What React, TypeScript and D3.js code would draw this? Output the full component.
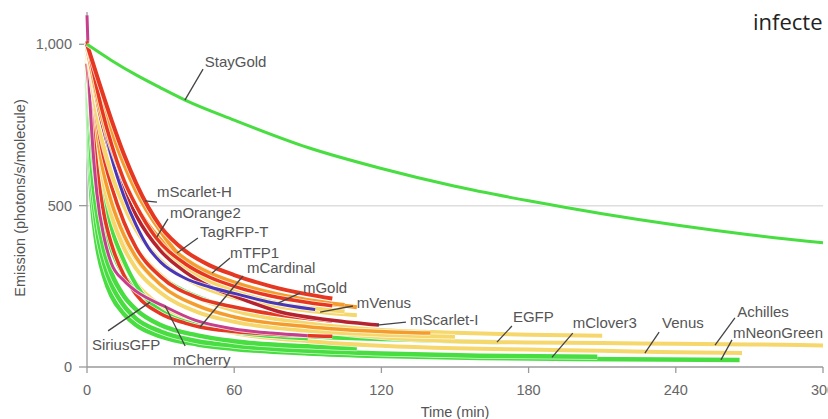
import React from "react";
import * as d3 from "d3";

// photobleaching curves, [time (min), emission (photons/s/molecule)]
const stayGold = [[0, 1000], [10, 950], [20, 905], [30, 865], [40, 827], [60, 765], [90, 680], [120, 615], [150, 560], [180, 515], [210, 475], [240, 440], [270, 410], [300, 385]];
const mNeonGreen = [[0, 880], [1, 640], [2, 510], [4, 380], [7, 280], [10, 220], [15, 165], [20, 130], [30, 95], [45, 70], [60, 56], [90, 42], [120, 34], [160, 28], [200, 25], [266, 22]];
const mClover3 = [[0, 920], [1, 700], [2, 570], [4, 430], [7, 320], [10, 255], [15, 190], [20, 150], [30, 110], [45, 80], [60, 66], [90, 50], [120, 42], [160, 35], [208, 32]];
const greenC = [[0, 950], [2, 620], [4, 480], [7, 360], [10, 290], [15, 220], [20, 178], [30, 130], [45, 98], [60, 80], [90, 64], [110, 58]];
const egfp = [[0, 980], [2, 700], [4, 560], [7, 440], [10, 365], [15, 285], [20, 235], [30, 175], [45, 132], [60, 112], [90, 95], [120, 87], [150, 80], [168, 77]];
const siriusGFP = [[0, 1000], [2, 780], [5, 600], [10, 430], [15, 330], [20, 255], [25, 205], [30, 175], [45, 130], [60, 108], [75, 96], [90, 88]];
const greenF = [[0, 1000], [3, 820], [6, 680], [10, 560], [15, 450], [20, 370], [25, 315], [30, 280], [40, 235], [50, 205], [60, 185], [75, 165], [90, 150], [100, 142]];
const achilles = [[0, 1000], [2, 820], [5, 650], [10, 500], [15, 400], [20, 335], [30, 255], [45, 190], [60, 155], [90, 115], [120, 92], [150, 80], [180, 76], [210, 74], [240, 72], [270, 70], [300, 67]];
const venus = [[0, 960], [2, 740], [5, 560], [10, 410], [15, 320], [20, 260], [30, 190], [45, 135], [60, 105], [90, 80], [120, 66], [150, 58], [180, 54], [210, 50], [240, 46], [267, 43]];
const yellowC = [[0, 1000], [3, 800], [6, 660], [10, 540], [15, 440], [20, 370], [30, 285], [45, 215], [60, 175], [90, 135], [120, 115], [150, 106], [180, 100], [210, 97]];
const mGold = [[0, 1000], [3, 860], [6, 760], [10, 660], [15, 560], [20, 480], [30, 375], [45, 285], [60, 235], [78, 198], [95, 180], [105, 172]];
const mVenus = [[0, 1000], [3, 830], [6, 710], [10, 600], [15, 500], [20, 425], [30, 330], [45, 255], [60, 215], [80, 185], [95, 170], [110, 160]];
const yellowF = [[0, 980], [3, 760], [6, 600], [10, 470], [15, 370], [20, 305], [30, 230], [45, 170], [60, 140], [90, 112], [120, 100], [150, 94]];
const mOrange2 = [[0, 1010], [3, 900], [6, 800], [10, 690], [15, 580], [20, 500], [28, 402], [40, 320], [50, 278], [60, 250], [75, 220], [90, 200], [100, 190]];
const tagRFPT = [[0, 1000], [3, 910], [6, 830], [10, 730], [15, 630], [20, 545], [30, 420], [36, 360], [45, 310], [60, 262], [75, 230], [90, 208], [105, 192]];
const orangeC = [[0, 1000], [3, 780], [6, 630], [10, 510], [15, 410], [20, 340], [30, 255], [45, 190], [60, 155], [90, 125], [120, 110], [140, 105]];
const mScarletH = [[0, 1000], [5, 880], [10, 765], [15, 660], [20, 570], [25, 495], [30, 435], [40, 360], [50, 315], [60, 285], [75, 250], [90, 225], [100, 212]];
const mTFP1 = [[0, 990], [3, 880], [6, 780], [10, 680], [15, 580], [20, 500], [30, 395], [40, 335], [50, 293], [60, 262], [75, 230], [90, 205], [110, 185]];
const mScarletI = [[0, 1000], [3, 870], [6, 760], [10, 650], [15, 550], [20, 470], [30, 360], [40, 295], [50, 250], [60, 220], [78, 172], [100, 145], [119, 130]];
const redD = [[0, 1000], [3, 820], [6, 680], [10, 560], [15, 450], [20, 370], [30, 280], [45, 215], [60, 186], [75, 165], [90, 150], [100, 142]];
const mCardinal = [[0, 940], [2, 760], [4, 620], [7, 470], [10, 380], [15, 285], [20, 225], [30, 165], [40, 136], [46, 124], [60, 110], [80, 100], [100, 95]];
const blueLine = [[0, 1000], [3, 880], [6, 780], [10, 650], [15, 530], [20, 440], [25, 370], [30, 325], [40, 275], [50, 248], [60, 228], [75, 200], [93, 178]];
const mCherry = [[0, 1090], [1, 860], [2, 720], [4, 540], [7, 400], [10, 320], [15, 268], [20, 235], [31, 190], [44, 145], [60, 118], [75, 105], [90, 97]];

const xTicks = [0, 60, 120, 180, 240, 300];
const yTicks = [0, 500, 1000];

const GREEN = "#48dd40";
const YELLOW = "#f6d76c";
const ORANGE = "#f49d2e";
const RED = "#e63722";
const DARKRED = "#b52330";
const BLUE = "#4a36b8";
const MAGENTA = "#c63f8c";

const series = [
  { pts: mNeonGreen, color: GREEN, w: 4.5 },
  { pts: mClover3, color: GREEN, w: 4.5 },
  { pts: greenC, color: GREEN, w: 4.5 },
  { pts: egfp, color: GREEN, w: 4.5 },
  { pts: achilles, color: YELLOW, w: 4 },
  { pts: venus, color: YELLOW, w: 4 },
  { pts: yellowC, color: YELLOW, w: 4 },
  { pts: siriusGFP, color: GREEN, w: 4 },
  { pts: greenF, color: GREEN, w: 3.5 },
  { pts: yellowF, color: YELLOW, w: 4 },
  { pts: orangeC, color: ORANGE, w: 3.5 },
  { pts: mCardinal, color: RED, w: 3.5 },
  { pts: mCherry, color: MAGENTA, w: 3 },
  { pts: redD, color: RED, w: 3.5 },
  { pts: mVenus, color: YELLOW, w: 4 },
  { pts: mGold, color: YELLOW, w: 4 },
  { pts: mScarletI, color: DARKRED, w: 3.5 },
  { pts: blueLine, color: BLUE, w: 3 },
  { pts: mTFP1, color: ORANGE, w: 4 },
  { pts: tagRFPT, color: ORANGE, w: 4 },
  { pts: mOrange2, color: RED, w: 3.5 },
  { pts: mScarletH, color: RED, w: 4 },
  { pts: stayGold, color: GREEN, w: 3 },
];

// annotation: text anchor and leader line, all in data units
const labels = [
  { text: "StayGold", at: [48, 930], from: [47.3, 923], to: [39.9, 827] },
  { text: "mScarlet-H", at: [28.5, 527], from: [28.5, 511], to: [23.6, 515] },
  { text: "mOrange2", at: [33.8, 462], from: [33, 459], to: [28.5, 403] },
  { text: "TagRFP-T", at: [46.1, 403], from: [45.2, 400], to: [36.7, 353] },
  { text: "mTFP1", at: [58.3, 338], from: [58.3, 338], to: [51, 291] },
  { text: "mCardinal", at: [65.2, 291], from: [63.6, 282], to: [46.1, 124] },
  { text: "mGold", at: [88, 229], from: [86.8, 229], to: [77.9, 198] },
  { text: "mVenus", at: [110, 183], from: [108.4, 189], to: [95, 170] },
  { text: "mScarlet-I", at: [131.7, 130], from: [130, 139], to: [118.2, 130] },
  { text: "EGFP", at: [173.6, 139], from: [173.2, 127], to: [167.1, 77] },
  { text: "mClover3", at: [198, 121], from: [198, 105], to: [189.5, 30] },
  { text: "Venus", at: [234.4, 121], from: [233.2, 108], to: [227.4, 43] },
  { text: "Achilles", at: [265, 155], from: [264.1, 152], to: [256, 68] },
  { text: "mNeonGreen", at: [263.3, 90], from: [262.9, 84], to: [258.4, 22] },
  { text: "SiriusGFP", at: [2, 53], from: [8.6, 112], to: [25.7, 201] },
  { text: "mCherry", at: [35.1, 6], from: [40, 65], to: [31.8, 190] },
];

const W = 828;
const H = 419;
const FONT = "'Liberation Sans', Arial, sans-serif";

export default function App() {
  const x = d3.scaleLinear().domain([0, 300]).range([87, 823]);
  const y = d3.scaleLinear().domain([0, 1100]).range([367, 12]);
  const line = d3
    .line<number[]>()
    .x((d) => x(d[0]))
    .y((d) => y(d[1]))
    .curve(d3.curveMonotoneX);

  return (
    <svg width={W} height={H} style={{ position: "absolute", left: 0, top: 0, background: "#fff" }} fontFamily={FONT}>
      {/* reference line at 500 */}
      <line x1={x(0)} x2={x(300)} y1={y(500)} y2={y(500)} stroke="#dedede" strokeWidth={1.5} />

      {/* axes */}
      <line x1={x(0)} x2={x(0)} y1={y(0)} y2={y(1100)} stroke="#9a9a9a" strokeWidth={1.3} />
      <line x1={x(0)} x2={x(300)} y1={y(0)} y2={y(0)} stroke="#9a9a9a" strokeWidth={1.3} />
      {yTicks.map((t) => (
        <g key={"y" + t}>
          <line x1={x(0) - 8} x2={x(0)} y1={y(t)} y2={y(t)} stroke="#9a9a9a" strokeWidth={1.3} />
          <text x={x(0) - 15} y={y(t) + 5} textAnchor="end" fontSize={14.5} fill="#666">
            {d3.format(",")(t)}
          </text>
        </g>
      ))}
      {xTicks.map((t) => (
        <g key={"x" + t}>
          <line x1={x(t)} x2={x(t)} y1={y(0)} y2={y(0) + 6} stroke="#9a9a9a" strokeWidth={1.3} />
          <text x={x(t)} y={395} textAnchor="middle" fontSize={14.5} fill="#666">
            {t}
          </text>
        </g>
      ))}
      <text x={455} y={417} textAnchor="middle" fontSize={14.5} fill="#555">
        Time (min)
      </text>
      <text transform="translate(25,198) rotate(-90)" textAnchor="middle" fontSize={14.5} fill="#555">
        Emission (photons/s/molecule)
      </text>

      {/* curves, each with a thin white casing */}
      {series.map((s, i) => (
        <g key={i}>
          <path d={line(s.pts) || ""} fill="none" stroke="#fff" strokeWidth={s.w + 1.5} strokeLinejoin="round" opacity={0.8} />
          <path d={line(s.pts) || ""} fill="none" stroke={s.color} strokeWidth={s.w} strokeLinejoin="round" />
        </g>
      ))}

      {/* labels */}
      {labels.map((l) => (
        <g key={l.text}>
          <line x1={x(l.from[0])} y1={y(l.from[1])} x2={x(l.to[0])} y2={y(l.to[1])} stroke="#444" strokeWidth={1.3} />
          <text x={x(l.at[0])} y={y(l.at[1])} fontSize={15} fill="#555">
            {l.text}
          </text>
        </g>
      ))}

      <text x={753} y={30} fontSize={22} fill="#222" fontFamily="'Open Sans', sans-serif">
        infecte
      </text>
    </svg>
  );
}
